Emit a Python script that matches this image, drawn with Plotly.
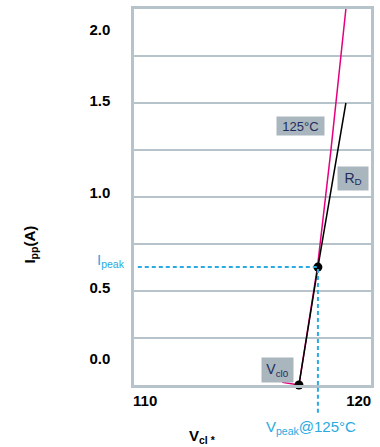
import plotly.graph_objects as go

# ---- data ----
magenta_v = [116.25, 116.96, 117.74, 118.30, 118.94]
magenta_i = [0.015, 0.0, 0.627, 1.239, 2.0]
black_v = [116.96, 117.76, 118.94]
black_i = [0.0, 0.627, 1.5]
point_v = [116.96, 117.76]
point_i = [0.0, 0.627]
v_peak = 117.76
i_peak = 0.627
y_tick_text = ["0.0", "0.5", "1.0", "1.5", "2.0"]
x_tick_text = ["110", "120"]

# ---- layout constants ----
y_tick_pos = [0.142, 0.517, 1.023, 1.513, 1.888]
x_tick_pos = [110.47, 119.48]
GRID = "#b7c3cb"
BOX = "#a9b6be"
NAVY = "#1f2d5c"
BLUE = "#29aae1"
FONT = "Liberation Sans, Arial, sans-serif"

fig = go.Figure()
fig.add_trace(go.Scatter(x=magenta_v, y=magenta_i, mode="lines",
                         line=dict(color="#e5007e", width=1.5), hoverinfo="skip"))
fig.add_trace(go.Scatter(x=black_v, y=black_i, mode="lines",
                         line=dict(color="#000000", width=1.5), hoverinfo="skip"))
fig.add_trace(go.Scatter(x=point_v, y=point_i, mode="markers",
                         marker=dict(color="#000000", size=9), cliponaxis=False,
                         hoverinfo="skip"))

# dashed guide lines
dash = dict(color=BLUE, width=2, dash="4px,3px")
fig.add_shape(type="line", xref="x", yref="y", x0=110.16, x1=v_peak,
              y0=i_peak, y1=i_peak, line=dash)
fig.add_shape(type="line", xref="x", yref="y", x0=v_peak, x1=v_peak,
              y0=0, y1=i_peak, line=dash)
fig.add_shape(type="line", xref="x", yref="paper", x0=v_peak, x1=v_peak,
              y0=-0.074, y1=0, line=dash)

ann = []
# boxed labels
ann.append(dict(x=117.03, y=1.376, xref="x", yref="y", text="125°C", showarrow=False,
                bgcolor=BOX, width=47, height=18, borderpad=0,
                font=dict(family=FONT, size=13, color=NAVY)))
ann.append(dict(x=119.23, y=1.099, xref="x", yref="y", text="R<sub>D</sub>", showarrow=False,
                bgcolor=BOX, width=30, height=23, borderpad=0,
                font=dict(family=FONT, size=14, color=NAVY)))
ann.append(dict(x=116.04, y=0.079, xref="x", yref="y", text="V<sub>cl0</sub>", showarrow=False,
                bgcolor=BOX, width=31, height=24, borderpad=0,
                font=dict(family=FONT, size=14, color=NAVY)))
# blue labels
ann.append(dict(x=-0.028, y=i_peak, xref="paper", yref="y", text="I<sub>peak</sub>",
                showarrow=False, xanchor="right", yanchor="middle", yshift=7,
                font=dict(family=FONT, size=15, color=BLUE)))
ann.append(dict(x=v_peak, y=-0.082, xref="x", yref="paper", text="V<sub>peak</sub>@125°C",
                showarrow=False, xanchor="center", yanchor="top", xshift=-7,
                font=dict(family=FONT, size=15, color=BLUE)))
# axis titles
ann.append(dict(x=0.29, y=-0.106, xref="paper", yref="paper", text="<b>V<sub>cl *</sub></b>",
                showarrow=False, xanchor="center", yanchor="top",
                font=dict(family=FONT, size=15, color="#000000")))
ann.append(dict(x=-0.438, y=0.374, xref="paper", yref="paper", text="<b>I<sub>pp</sub>(A)</b>",
                showarrow=False, textangle=-90, xanchor="center", yanchor="middle",
                font=dict(family=FONT, size=15, color="#000000")))

fig.update_layout(
    width=380, height=447,
    margin=dict(l=134, r=8, t=6, b=62),
    paper_bgcolor="white", plot_bgcolor="white",
    showlegend=False,
    annotations=ann,
    font=dict(family=FONT),
    xaxis=dict(range=[110, 120], tickvals=x_tick_pos, ticktext=x_tick_text,
               showgrid=False, zeroline=False, ticks="",
               showline=True, linecolor=GRID, linewidth=2.5, mirror=True,
               ticklabelstandoff=0,
               tickfont=dict(family=FONT, size=15, color="#000000", weight="bold")),
    yaxis=dict(range=[0, 2.0], tickvals=y_tick_pos, ticktext=y_tick_text,
               showgrid=False, zeroline=False, ticks="",
               showline=True, linecolor=GRID, linewidth=2.5, mirror=True,
               ticklabelstandoff=18,
               tickfont=dict(family=FONT, size=15, color="#000000", weight="bold"),
               minor=dict(tick0=0, dtick=0.25, showgrid=True, gridcolor=GRID,
                          gridwidth=2, ticks="")),
)

fig.write_html("out.html", config={"displayModeBar": False},
               post_script="document.body.style.margin='0px';document.body.style.padding='0px';")
